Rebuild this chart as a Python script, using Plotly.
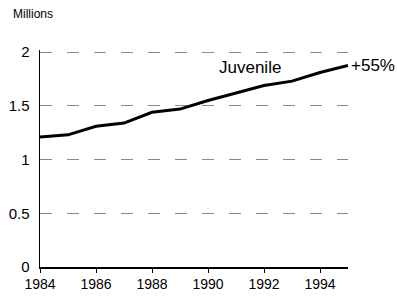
import plotly.graph_objects as go

years = [1984, 1985, 1986, 1987, 1988, 1989, 1990, 1991, 1992, 1993, 1994, 1995]
juvenile = [1.21, 1.23, 1.31, 1.34, 1.44, 1.47, 1.55, 1.62, 1.69, 1.73, 1.81, 1.876]
x_ticks = [1984, 1986, 1988, 1990, 1992, 1994]
y_ticks = [0, 0.5, 1, 1.5, 2]
y_tick_text = ["0", "0.5", "1", "1.5", "2"]
series_label = "Juvenile"
change_label = "+55%"

font = "Liberation Sans, Arial, sans-serif"

fig = go.Figure()
fig.add_trace(go.Scatter(x=years, y=juvenile, mode="lines",
                         line=dict(color="black", width=3), showlegend=False,
                         hoverinfo="skip"))

fig.update_layout(
    width=397, height=299,
    margin=dict(l=40, r=49, t=50, b=32, autoexpand=False),
    paper_bgcolor="white", plot_bgcolor="white",
    font=dict(family=font, color="black"),
    xaxis=dict(range=[1984, 1995], tickvals=x_ticks, ticks="outside", ticklen=4,
               tickcolor="black", showline=True, linecolor="black", linewidth=1.5,
               showgrid=False, zeroline=False, tickfont=dict(size=14), automargin=False),
    yaxis=dict(range=[0, 2.02], tickvals=y_ticks, ticktext=y_tick_text, ticks="",
               showline=True, linecolor="black", linewidth=1.5,
               showgrid=True, gridcolor="#8a8a8a", gridwidth=1, griddash="12px,15px",
               zeroline=False, tickfont=dict(size=15), ticklabelstandoff=6, automargin=False),
    annotations=[
        dict(text="Millions", x=-29/308, y=1 + 36/217, xref="paper", yref="paper",
             showarrow=False, xanchor="left", yanchor="middle",
             font=dict(size=12)),
        dict(text=series_label, x=1991.5, y=1.86, xref="x", yref="y",
             showarrow=False, xanchor="center", yanchor="middle",
             font=dict(size=17)),
        dict(text=change_label, x=years[-1], y=juvenile[-1], xref="x", yref="y",
             showarrow=False, xanchor="left", yanchor="middle", xshift=1,
             font=dict(size=17)),
    ],
)
fig.write_html("out.html", config={"displayModeBar": False, "staticPlot": True},
               post_script="document.body.style.margin='0';")
